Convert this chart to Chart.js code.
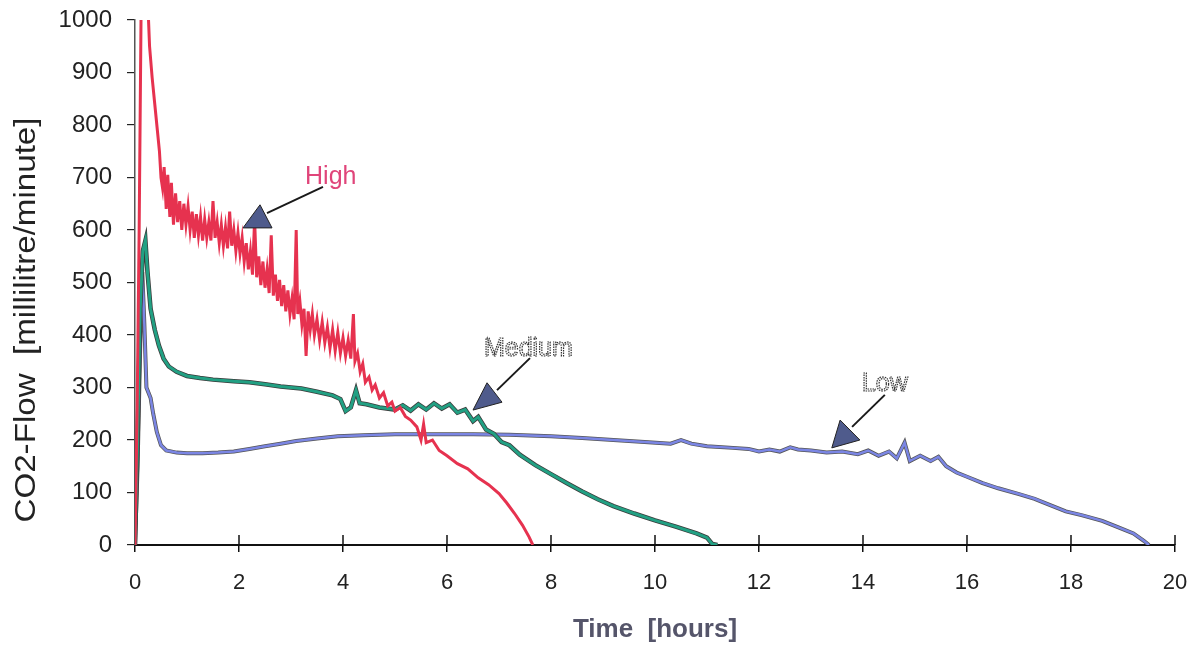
<!DOCTYPE html>
<html>
<head>
<meta charset="utf-8">
<script src="https://cdn.jsdelivr.net/npm/chart.js@4/dist/chart.umd.min.js"></script>
<style>
    html, body { margin: 0; padding: 0; background: #fff; }
    #wrap { width: 1199px; height: 648px; }
</style>
</head>
<body>
<div id="wrap"><canvas id="flow-chart"></canvas></div>
<script>
// CO2 flow (hours -> millilitre/minute)
let highHours = [0, 0.04, 0.08, 0.12, 0.24, 0.28, 0.33, 0.38, 0.43, 0.47,
    0.5, 0.53, 0.56, 0.6, 0.63, 0.67, 0.7, 0.74, 0.78, 0.82, 0.86, 0.9, 0.94, 0.98,
    1.02, 1.06, 1.1, 1.14, 1.18, 1.22, 1.26, 1.3, 1.34, 1.38, 1.42, 1.46, 1.5, 1.54, 1.58, 1.62, 1.66, 1.7, 1.74, 1.78,
    1.82, 1.86, 1.9, 1.94, 1.98, 2.02, 2.06, 2.1, 2.14, 2.18, 2.22, 2.26, 2.3, 2.34, 2.38, 2.42, 2.46, 2.5, 2.54, 2.58,
    2.62, 2.66, 2.7, 2.74, 2.78, 2.82, 2.86, 2.9, 2.94, 2.98, 3.02, 3.06, 3.1, 3.13, 3.17, 3.21, 3.25, 3.29, 3.33, 3.37,
    3.41, 3.45, 3.5, 3.55, 3.6, 3.65, 3.7, 3.75, 3.8, 3.85, 3.9, 3.95, 4.0, 4.05, 4.1, 4.15, 4.2, 4.23, 4.28, 4.33,
    4.38, 4.43, 4.5, 4.56, 4.62, 4.7, 4.78, 4.86, 4.94, 5.0, 5.1, 5.2, 5.3, 5.42, 5.5, 5.55, 5.6, 5.72, 5.85, 6.0,
    6.2, 6.4, 6.6, 6.8, 7.0, 7.15, 7.3, 7.45, 7.58, 7.65];
let highFlow = [0, 250, 600, 1050, 1050, 950, 890, 840, 790, 750,
    700, 680, 720, 640, 705, 625, 690, 610, 670, 615, 655, 600, 650, 610,
    645, 600, 635, 585, 630, 590, 625, 580, 620, 585, 615, 580, 655, 585, 615, 575, 610, 570, 605, 565,
    635, 570, 600, 560, 595, 555, 585, 540, 575, 525, 560, 515, 620, 510, 550, 495, 540, 490, 525, 480,
    590, 475, 515, 465, 505, 455, 495, 445, 485, 440, 470, 430, 600, 440, 465, 420, 450, 360, 445, 410,
    440, 400, 430, 390, 425, 385, 415, 375, 410, 370, 405, 365, 395, 360, 390, 355, 440, 350, 365, 330,
    345, 310, 320, 295, 305, 280, 290, 265, 272, 255, 262, 245, 238, 225, 200, 230, 195, 200, 180, 170,
    155, 145, 128, 115, 98, 80, 60, 38, 15, 0];

let mediumHours = [0, 0.05, 0.1, 0.15, 0.2, 0.24, 0.3, 0.38, 0.46, 0.55, 0.65, 0.8, 1.0, 1.25, 1.5, 1.9, 2.2, 2.5, 2.8, 3.2,
    3.5, 3.8, 3.95, 4.05, 4.15, 4.25, 4.32, 4.45, 4.7, 5.0, 5.15, 5.3, 5.45, 5.6, 5.75, 5.9, 6.05, 6.2, 6.35, 6.5,
    6.6, 6.75, 6.9, 7.05, 7.2, 7.4, 7.7, 8.0, 8.3, 8.6, 8.9, 9.2, 9.6, 10.0, 10.4, 10.8, 11.0, 11.1, 11.2];
let mediumFlow = [0, 200, 450, 560, 580, 520, 450, 410, 380, 355, 340, 330, 322, 318, 315, 312, 310, 306, 302, 298,
    292, 285, 278, 255, 262, 295, 270, 268, 262, 258, 266, 256, 268, 258, 270, 260, 268, 252, 258, 236,
    244, 220, 212, 196, 190, 172, 152, 135, 118, 102, 87, 74, 60, 47, 35, 22, 14, 2, 0];

let lowHours = [0, 0.05, 0.1, 0.14, 0.18, 0.22, 0.26, 0.3, 0.35, 0.42, 0.5, 0.6, 0.8, 1.0, 1.3, 1.6, 1.9, 2.2, 2.5, 2.8,
    3.1, 3.5, 3.9, 4.4, 5.0, 5.7, 6.5, 7.2, 8.0, 8.6, 9.2, 9.8, 10.3, 10.5, 10.7, 11.0, 11.5, 11.8, 12.0, 12.2,
    12.4, 12.6, 12.75, 13.0, 13.3, 13.6, 13.9, 14.1, 14.3, 14.5, 14.65, 14.8, 14.9, 15.1, 15.3, 15.45, 15.6, 15.8, 16.0, 16.3,
    16.6, 17.0, 17.3, 17.6, 17.9, 18.2, 18.6, 18.9, 19.2, 19.4, 19.5];
let lowFlow = [0, 150, 380, 520, 420, 300, 290, 280, 250, 215, 190, 180, 176, 175, 175, 176, 178, 183, 188, 193,
    198, 203, 207, 209, 211, 211, 211, 210, 207, 204, 200, 196, 193, 200, 193, 188, 185, 183, 178, 182,
    178, 186, 182, 180, 176, 178, 173, 180, 170, 178, 165, 195, 160, 170, 160, 168, 150, 138, 130, 118,
    108, 97, 88, 76, 64, 57, 46, 34, 22, 8, 0];

let toPoints = (xs, ys) => xs.map((h, i) => ({ x: h, y: ys[i] }));

// labels + arrows, positions given in axis units
let notes = [
    { text: 'High', at: [3.27, 688], color: '#e0457a', hollow: false,
      line: [[3.615, 682], [2.538, 632]], head: [[2.077, 604], [2.404, 648], [2.635, 604]] },
    { text: 'Medium', at: [6.71, 360], color: '#333', hollow: true,
      line: [[7.596, 356], [6.962, 295]], head: [[6.5, 257], [6.77, 309], [7.058, 272]] },
    { text: 'Low', at: [13.98, 293], color: '#333', hollow: true,
      line: [[14.42, 286], [13.79, 225]], head: [[13.40, 185], [13.56, 238], [13.94, 200]] }
];

let overlay = {
    id: 'overlay',
    afterDatasetsDraw(chart) {
        let ctx = chart.ctx;
        let x = chart.scales.x;
        let y = chart.scales.y;
        let px = (p) => [x.getPixelForValue(p[0]), y.getPixelForValue(p[1])];

        ctx.save();
        // x ticks also poke up into the plot
        ctx.strokeStyle = '#111';
        ctx.lineWidth = 1.5;
        for (let v = 2; v <= 20; v += 2) {
            let xp = x.getPixelForValue(v);
            ctx.beginPath();
            ctx.moveTo(xp, y.bottom);
            ctx.lineTo(xp, y.bottom - 10);
            ctx.stroke();
        }

        notes.forEach(n => {
            let a = px(n.line[0]);
            let b = px(n.line[1]);
            ctx.strokeStyle = '#1a1a1a';
            ctx.lineWidth = 2;
            ctx.beginPath();
            ctx.moveTo(a[0], a[1]);
            ctx.lineTo(b[0], b[1]);
            ctx.stroke();

            ctx.beginPath();
            n.head.forEach((p, i) => {
                let q = px(p);
                if (i == 0) ctx.moveTo(q[0], q[1]);
                else ctx.lineTo(q[0], q[1]);
            });
            ctx.closePath();
            ctx.fillStyle = '#4f5b8c';
            ctx.fill();
            ctx.strokeStyle = '#222';
            ctx.lineWidth = 1;
            ctx.stroke();

            let t = px(n.at);
            ctx.font = '25px "Liberation Sans", Arial, sans-serif';
            ctx.textAlign = 'left';
            ctx.textBaseline = 'alphabetic';
            if (n.hollow) {
                ctx.fillStyle = '#fafafa';
                ctx.fillText(n.text, t[0], t[1]);
                ctx.strokeStyle = n.color;
                ctx.lineWidth = 1.2;
                ctx.setLineDash([1.5, 1]);
                ctx.strokeText(n.text, t[0], t[1]);
                ctx.setLineDash([]);
            } else {
                ctx.fillStyle = n.color;
                ctx.fillText(n.text, t[0], t[1]);
            }
        });
        ctx.restore();
    },
    afterDraw(chart) {
        let ctx = chart.ctx;
        let x = chart.scales.x;
        ctx.save();

        // x title
        ctx.font = 'bold 26px "Liberation Sans", Arial, sans-serif';
        ctx.fillStyle = '#55556a';
        ctx.textAlign = 'center';
        ctx.textBaseline = 'middle';
        ctx.fillText('Time  [hours]', (x.left + x.right) / 2, 630);

        // y title, stretched to the length it has in the scan
        let label = 'CO2-Flow  [millilitre/minute]';
        ctx.font = '29px "Liberation Sans Narrow", "Liberation Sans", Arial, sans-serif';
        let w = ctx.measureText(label).width;
        ctx.translate(27, 320);
        ctx.rotate(-Math.PI / 2);
        ctx.scale(405 / w, 1);
        ctx.fillStyle = '#222';
        ctx.fillText(label, 0, 0);
        ctx.restore();
    }
};

let flowChart = new Chart(document.getElementById('flow-chart'), {
    type: 'line',
    data: {
        datasets: [{
            label: 'High',
            data: toPoints(highHours, highFlow),
            borderColor: '#e6324f',
            borderWidth: 3,
            order: 0
        }, {
            label: 'Medium',
            data: toPoints(mediumHours, mediumFlow),
            borderColor: '#22a083',
            borderWidth: 3,
            order: 1
        }, {
            label: 'Medium outline',
            data: toPoints(mediumHours, mediumFlow),
            borderColor: '#3a3a3a',
            borderWidth: 4.5,
            order: 2
        }, {
            label: 'Low',
            data: toPoints(lowHours, lowFlow),
            borderColor: '#7b86e4',
            borderWidth: 2.5,
            order: 3
        }, {
            label: 'Low outline',
            data: toPoints(lowHours, lowFlow),
            borderColor: '#555',
            borderWidth: 4,
            order: 4
        }]
    },
    options: {
        responsive: true,
        maintainAspectRatio: false,
        animation: false,
        layout: { padding: { top: 20, right: 24, left: 0, bottom: 0 } },
        elements: {
            point: { radius: 0 },
            line: { tension: 0, fill: false }
        },
        plugins: {
            legend: { display: false },
            tooltip: { enabled: false },
            title: { display: false }
        },
        scales: {
            x: {
                type: 'linear',
                min: 0,
                max: 20,
                afterFit: (s) => {
                    s.height = 103;
                    s.paddingLeft = 0;
                    s.paddingRight = 0;
                },
                ticks: {
                    stepSize: 2,
                    padding: 18,
                    color: '#222',
                    font: { family: '"Liberation Sans", Arial, sans-serif', size: 22 }
                },
                grid: { drawOnChartArea: false, tickLength: 7, color: '#111', lineWidth: 1.5 },
                border: { color: '#111', width: 2 }
            },
            y: {
                min: 0,
                max: 1000,
                afterFit: (s) => {
                    s.width = 135;
                    s.paddingTop = 0;
                    s.paddingBottom = 0;
                },
                ticks: {
                    stepSize: 100,
                    padding: 15,
                    color: '#222',
                    font: { family: '"Liberation Sans", Arial, sans-serif', size: 24 },
                    callback: (v) => String(v)
                },
                grid: { drawOnChartArea: false, tickLength: 8, color: '#222', lineWidth: 1.2 },
                border: { color: '#555', width: 1.5, dash: [2, 2] }
            }
        }
    },
    plugins: [overlay]
});
</script>
</body>
</html>
